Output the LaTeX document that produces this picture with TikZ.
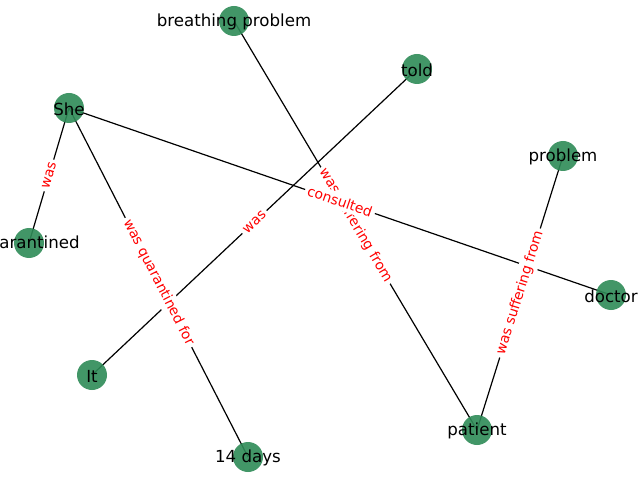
\documentclass[tikz,border=0pt]{standalone}
\usepackage{fontspec}
\setmainfont{DejaVu Sans}
\usetikzlibrary{backgrounds}
\definecolor{seagrn}{RGB}{46,139,87}

\begin{document}
\begin{tikzpicture}[
    x=1bp, y=-1bp,
    vert/.style={circle, fill=seagrn, fill opacity=0.9, text opacity=1, minimum size=30bp, inner sep=0pt,
                 label={[font=\fontsize{16.7}{20}\selectfont, text=black, yshift=-1bp]center:#1}},
    edge/.style={draw=black, line width=1.2bp},
    elbl/.style={midway, sloped, fill=white, rounded corners=3pt, inner sep=3pt, text=red,
                 font=\fontsize{13.9}{16}\selectfont}
  ]
  \useasboundingbox (0,0) rectangle (640,480);
  \clip (0,0) rectangle (640,480);

  % --- Nodes ---
  \node[vert=breathing problem] (bp) at (234,21) {};
  \node[vert=told] (told) at (417,69) {};
  \node[vert=She] (she) at (69,108) {};
  \node[vert=problem] (prob) at (563,156) {};
  \node[vert=quarantined] (quar) at (29,243) {};
  \node[vert=doctor] (doc) at (611,295) {};
  \node[vert=It] (it) at (92,375) {};
  \node[vert=patient] (pat) at (477,430) {};
  \node[vert=14 days] (days) at (248,457) {};

  % --- Edges (under the nodes) ---
  \begin{scope}[on background layer]
    \draw[edge] (she.center) -- (quar.center);
    \draw[edge] (she.center) -- (days.center);
    \draw[edge] (she.center) -- (doc.center);
    \draw[edge] (told.center) -- (it.center);
    \draw[edge] (bp.center) -- (pat.center);
    \draw[edge] (prob.center) -- (pat.center);
  \end{scope}

  % --- Edge labels ---
  \path (she.center) -- node[elbl] {was} (quar.center);
  \path (she.center) -- node[elbl] {was quarantined for} (days.center);
  \path (told.center) -- node[elbl] {was} (it.center);
  \path (bp.center) -- node[elbl] {was suffering from} (pat.center);
  \path (she.center) -- node[elbl] {consulted} (doc.center);
  \path (prob.center) -- node[elbl] {was suffering from} (pat.center);

\end{tikzpicture}
\end{document}
